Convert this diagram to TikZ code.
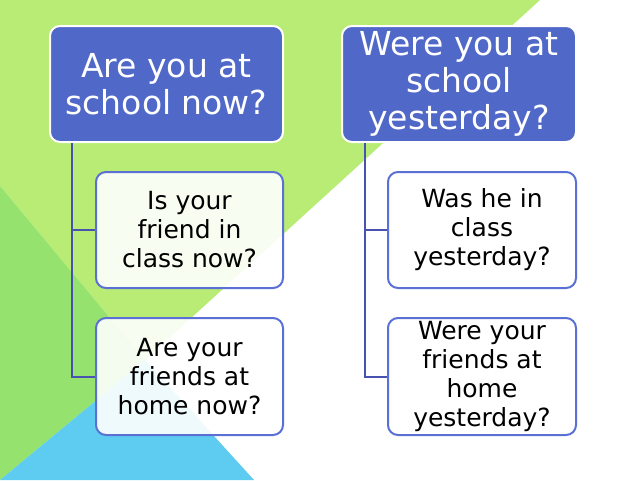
\documentclass[tikz,border=0pt]{standalone}
\usepackage{fontspec}
\setmainfont{DejaVu Sans}
\definecolor{lgreen}{RGB}{184,236,116}
\definecolor{dgreen}{RGB}{150,226,110}
\definecolor{lblue}{RGB}{94,204,240}
\definecolor{topblue}{RGB}{80,104,200}
\definecolor{cborder}{RGB}{90,112,212}
\definecolor{connblue}{RGB}{72,82,176}
\begin{document}
\begin{tikzpicture}[x=1pt,y=-1pt,
  topbox/.style={draw=white, line width=2pt, fill=topblue, rounded corners=10pt,
    text=white, font=\fontsize{33}{37}\selectfont, align=center,
    minimum width=233pt, minimum height=116pt, inner sep=0pt},
  childbox/.style={draw=cborder, line width=2pt, fill=white, fill opacity=0.9, text opacity=1,
    rounded corners=10pt, text=black, font=\fontsize{25}{29}\selectfont, align=center,
    minimum width=187pt, minimum height=116pt, inner sep=0pt},
  connector/.style={draw=connblue, line width=2pt}]
\useasboundingbox (0,0) rectangle (640,480);
% background
\fill[white] (0,0) rectangle (640,480);
\fill[lgreen] (0,0) -- (540,0) -- (145,360) -- (0,186) -- cycle;
\fill[dgreen] (0,186) -- (145,360) -- (0,480) -- cycle;
\fill[lblue] (0,480) -- (145,360) -- (254,480) -- cycle;
% nodes
\node[topbox] (tl) at (166.5,84) {Are you at\\school now?};
\node[topbox, minimum width=234pt] (tr) at (459,84) {Were you at\\school\\yesterday?};
\node[childbox] (c1) at (189.5,230) {Is your\\friend in\\class now?};
\node[childbox, minimum height=117pt] (c2) at (189.5,376.5) {Are your\\friends at\\home now?};
\node[childbox, minimum width=188pt] (c3) at (482,230) {Was he in\\class\\yesterday?};
\node[childbox, minimum width=188pt, minimum height=117pt] (c4) at (482,376.5) {Were your\\friends at\\home\\yesterday?};
% connectors
\draw[connector] ([xshift=23pt]tl.south west) |- (c1.west);
\draw[connector] ([xshift=23pt]tl.south west) |- (c2.west);
\draw[connector] ([xshift=24pt]tr.south west) |- (c3.west);
\draw[connector] ([xshift=24pt]tr.south west) |- (c4.west);
\end{tikzpicture}
\end{document}
